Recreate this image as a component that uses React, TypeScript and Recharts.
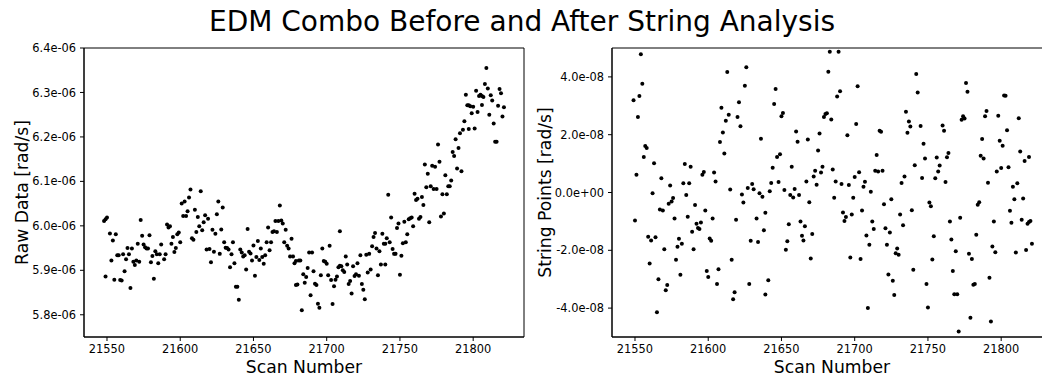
import React from 'react';
import { ScatterChart, Scatter, XAxis, YAxis, ReferenceArea } from 'recharts';

const FONT = "'DejaVu Sans', 'Liberation Sans', sans-serif";

const titleText = 'EDM Combo Before and After String Analysis';
const xTitle = 'Scan Number';
const rawTitle = 'Raw Data [rad/s]';
const stringTitle = 'String Points [rad/s]';

const scanTicks = [21550, 21600, 21650, 21700, 21750, 21800];
const scanDomain = [21534.3, 21834.7];

// raw EDM values, in units of 1e-06 rad/s
const rawTicks = [5.8, 5.9, 6.0, 6.1, 6.2, 6.3, 6.4];
const rawDomain = [5.75, 6.4];

// string residuals, in units of 1e-08 rad/s
const stringTicks = [-4, -2, 0, 2, 4];
const stringDomain = [-5, 5];

const rawScans = [
  21548, 21549, 21550, 21549, 21552, 21556, 21554, 21553, 21555, 21557, 21558, 21559, 21560, 21561, 21562, 21563,
  21564, 21567, 21565, 21566, 21568, 21569, 21570, 21572, 21571, 21573, 21574, 21575, 21576, 21577, 21578, 21579,
  21580, 21581, 21583, 21582, 21584, 21585, 21586, 21587, 21589, 21590, 21591, 21592, 21593, 21594, 21595, 21596,
  21597, 21598, 21599, 21600, 21601, 21603, 21604, 21602, 21606, 21607, 21605, 21608, 21609, 21610, 21611, 21612,
  21613, 21614, 21615, 21616, 21617, 21619, 21618, 21620, 21621, 21622, 21623, 21624, 21625, 21626, 21629, 21628,
  21627, 21630, 21631, 21632, 21633, 21635, 21636, 21634, 21637, 21638, 21639, 21640, 21641, 21642, 21643, 21644,
  21645, 21646, 21647, 21648, 21649, 21650, 21651, 21652, 21653, 21654, 21655, 21656, 21657, 21658, 21659, 21660,
  21661, 21662, 21663, 21664, 21665, 21666, 21667, 21668, 21669, 21670, 21671, 21672, 21673, 21674, 21675, 21676,
  21677, 21678, 21679, 21679, 21680, 21681, 21682, 21683, 21684, 21685, 21686, 21687, 21688, 21689, 21690, 21691,
  21692, 21693, 21694, 21695, 21696, 21697, 21698, 21699, 21700, 21701, 21702, 21703, 21704, 21705, 21706, 21707,
  21708, 21709, 21709, 21710, 21711, 21712, 21713, 21714, 21715, 21716, 21717, 21718, 21719, 21720, 21721, 21722,
  21723, 21724, 21725, 21726, 21727, 21728, 21729, 21730, 21731, 21732, 21733, 21734, 21735, 21736, 21737, 21738,
  21739, 21740, 21740, 21741, 21742, 21743, 21744, 21745, 21746, 21747, 21748, 21749, 21750, 21751, 21752, 21753,
  21754, 21755, 21756, 21757, 21758, 21759, 21760, 21761, 21762, 21763, 21764, 21765, 21766, 21767, 21768, 21769,
  21770, 21771, 21772, 21773, 21774, 21775, 21776, 21777, 21778, 21779, 21780, 21781, 21782, 21783, 21784, 21785,
  21786, 21787, 21788, 21789, 21790, 21791, 21792, 21793, 21794, 21795, 21796, 21797, 21797, 21798, 21799, 21800,
  21801, 21802, 21803, 21804, 21805, 21806, 21806, 21807, 21808, 21809, 21810, 21811, 21812, 21813, 21814, 21815,
  21816, 21817, 21818, 21819, 21820, 21821,
];

const rawValues = [
  6.011, 6.015, 6.019, 5.886, 5.983, 5.981, 5.967, 5.922, 5.879, 5.934, 5.934, 5.878, 5.877, 5.936, 5.898, 5.925,
  5.950, 5.949, 5.936, 5.860, 5.919, 5.912, 5.922, 5.919, 5.960, 6.013, 5.978, 5.958, 5.952, 5.949, 5.949, 5.979,
  5.918, 5.932, 5.943, 5.881, 5.936, 5.916, 5.936, 5.958, 5.925, 5.936, 6.003, 5.996, 5.999, 5.960, 5.975, 5.941,
  5.950, 5.981, 5.985, 5.963, 6.050, 6.055, 6.022, 6.022, 6.064, 6.082, 6.033, 5.972, 5.969, 6.036, 5.986, 6.020,
  5.999, 6.078, 5.990, 6.008, 6.024, 6.016, 5.947, 5.948, 5.918, 5.991, 5.942, 5.982, 6.026, 6.055, 6.041, 5.992,
  5.937, 5.963, 5.951, 5.950, 5.947, 5.936, 5.963, 5.907, 5.916, 5.863, 5.863, 5.834, 5.947, 5.940, 5.931, 5.934,
  5.902, 5.993, 5.942, 5.938, 5.922, 5.956, 5.888, 5.930, 5.966, 5.923, 5.949, 5.930, 5.915, 5.934, 5.963, 5.996,
  5.945, 5.963, 5.986, 5.988, 6.011, 5.986, 6.011, 6.046, 6.012, 6.005, 5.963, 5.991, 5.955, 5.949, 5.931, 5.971,
  5.931, 5.916, 5.867, 5.921, 5.868, 5.922, 5.922, 5.810, 5.891, 5.872, 5.885, 5.905, 5.940, 5.844, 5.940, 5.898,
  5.870, 5.867, 5.825, 5.816, 5.889, 5.949, 5.921, 5.919, 5.915, 5.889, 5.955, 5.878, 5.824, 5.864, 5.879, 5.886,
  5.907, 5.988, 5.910, 5.909, 5.900, 5.896, 5.931, 5.913, 5.869, 5.876, 5.848, 5.909, 5.887, 5.891, 5.916, 5.888,
  5.934, 5.869, 5.856, 5.835, 5.935, 5.895, 5.937, 5.902, 5.954, 5.975, 5.984, 5.949, 5.889, 5.943, 5.913, 5.982,
  5.960, 5.960, 5.913, 5.972, 6.070, 5.963, 6.019, 5.948, 5.937, 5.937, 5.995, 6.005, 5.890, 5.933, 5.961, 6.009,
  5.963, 5.981, 6.015, 6.017, 6.019, 5.999, 6.072, 6.058, 6.061, 6.016, 6.020, 6.065, 6.047, 6.138, 6.087, 6.117,
  6.008, 6.089, 6.135, 6.083, 6.133, 6.083, 6.183, 6.144, 6.021, 6.071, 6.028, 6.114, 6.071, 6.089, 6.089, 6.102,
  6.166, 6.157, 6.195, 6.129, 6.175, 6.208, 6.123, 6.216, 6.235, 6.295, 6.271, 6.271, 6.218, 6.269, 6.253, 6.268,
  6.219, 6.304, 6.256, 6.292, 6.295, 6.272, 6.292, 6.290, 6.319, 6.355, 6.309, 6.250, 6.294, 6.282, 6.230, 6.189,
  6.189, 6.270, 6.308, 6.298, 6.246, 6.267,
];

const stringScans = [
  21554, 21555, 21553, 21549, 21552, 21557, 21558, 21556, 21563, 21551, 21568, 21562, 21567, 21569, 21550, 21559,
  21561, 21564, 21570, 21560, 21566, 21572, 21571, 21565, 21574, 21573, 21575, 21576, 21577, 21578, 21580, 21579,
  21582, 21581, 21584, 21588, 21583, 21587, 21585, 21586, 21589, 21591, 21590, 21592, 21593, 21594, 21595, 21596,
  21597, 21598, 21601, 21602, 21599, 21600, 21603, 21604, 21605, 21606, 21607, 21608, 21609, 21610, 21611, 21612,
  21613, 21614, 21615, 21616, 21617, 21618, 21619, 21620, 21621, 21622, 21623, 21624, 21625, 21626, 21627, 21628,
  21629, 21630, 21631, 21633, 21634, 21635, 21636, 21637, 21638, 21639, 21639, 21641, 21642, 21643, 21644, 21645,
  21646, 21647, 21648, 21649, 21650, 21651, 21652, 21653, 21654, 21655, 21656, 21657, 21658, 21659, 21660, 21661,
  21662, 21663, 21664, 21665, 21666, 21667, 21668, 21669, 21670, 21671, 21672, 21673, 21674, 21675, 21676, 21677,
  21678, 21679, 21680, 21681, 21682, 21683, 21689, 21684, 21685, 21686, 21687, 21688, 21690, 21691, 21692, 21693,
  21694, 21695, 21696, 21697, 21698, 21699, 21700, 21701, 21702, 21703, 21704, 21705, 21706, 21707, 21708, 21709,
  21710, 21711, 21712, 21713, 21714, 21715, 21716, 21717, 21718, 21719, 21720, 21721, 21722, 21723, 21724, 21725,
  21726, 21727, 21728, 21729, 21730, 21731, 21732, 21733, 21734, 21735, 21736, 21737, 21738, 21739, 21740, 21741,
  21742, 21743, 21745, 21746, 21747, 21748, 21749, 21750, 21751, 21752, 21753, 21754, 21755, 21756, 21757, 21758,
  21760, 21761, 21762, 21763, 21764, 21765, 21766, 21767, 21768, 21769, 21770, 21771, 21772, 21773, 21774, 21775,
  21776, 21777, 21778, 21779, 21780, 21781, 21782, 21783, 21784, 21785, 21786, 21787, 21788, 21789, 21790, 21791,
  21792, 21793, 21794, 21795, 21796, 21797, 21798, 21799, 21800, 21801, 21802, 21803, 21804, 21805, 21806, 21807,
  21808, 21809, 21810, 21811, 21812, 21813, 21814, 21815, 21816, 21817, 21818, 21819, 21819, 21820, 21821,
];

const stringValues = [
  4.78, 3.76, 3.34, 3.19, 2.61, 1.61, 1.54, 1.23, 1.01, 0.61, 0.49, -0.03, -0.59, -0.62, -0.97, -1.53,
  -1.66, -1.55, -1.96, -2.46, -3.0, -3.2, -3.38, -4.14, 0.24, -0.39, -0.31, -0.19, -0.9, -2.33, -1.6, -1.88,
  -1.77, -2.85, 0.99, 0.89, 0.32, 0.32, -0.09, -0.84, -1.36, -0.43, -1.96, -1.08, -1.23, -1.26, -1.04, 0.61,
  0.71, -0.62, -1.59, -1.67, -2.72, -2.92, -0.9, 0.69, 0.38, -3.17, -2.66, 1.75, 2.93, 2.08, 1.35, 2.48,
  4.17, 2.69, 0.1, -2.33, -3.69, -3.45, -0.94, 2.61, 3.12, 2.29, -0.07, -0.35, 3.69, 4.33, 0.16, -3.17,
  -1.67, 0.29, 0.11, -0.9, -1.71, -0.03, 1.86, -0.15, -1.31, -0.7, -3.53, -3.04, 0.04, 0.33, 0.86, 3.06,
  3.58, 1.23, 0.36, 1.32, 2.64, 2.75, 0.09, -1.98, -1.69, -1.1, -0.09, 0.89, -0.17, 0.12, 2.11, 1.76,
  -0.09, -1.0, -1.5, -1.66, -1.17, 0.38, 1.83, -0.34, -2.28, -1.44, 0.55, 0.75, 0.27, 1.45, 2.04, 0.69,
  0.89, 2.61, 2.72, 2.74, 4.18, 4.87, 4.87, 2.53, 0.8, -0.18, 0.38, 3.32, 3.5, 0.29, -0.69, -0.99,
  -0.85, 1.98, 0.26, -2.25, -0.76, -0.18, 0.54, 2.37, 3.68, 0.7, -2.3, -0.62, 0.2, 0.37, -1.49, -4.0,
  -1.81, 0.03, -1.0, -1.26, 0.75, 1.3, 0.73, 2.14, 2.1, 0.75, -0.41, -1.24, -1.81, -2.84, -1.38, -0.23,
  -3.05, -3.55, -2.1, -1.94, -2.15, -0.76, 0.33, -1.13, 0.55, 2.79, 2.07, 2.46, 2.28, -0.61, -2.67, 0.94,
  4.1, 3.46, 2.3, 0.5, 1.69, 1.18, -3.17, -3.98, -0.35, -0.48, -2.32, -1.51, 0.49, 1.21, 0.73, 0.93,
  2.32, 2.14, 0.36, 1.22, 1.37, -1.0, -1.63, -2.72, -3.52, -2.03, -3.52, -4.81, -0.87, 2.52, 2.64, 2.56,
  3.79, 3.49, -2.12, -4.33, -2.3, -3.19, -3.17, -1.46, -0.42, -0.34, 1.27, 1.85, 1.18, 2.64, 2.82, 0.34,
  -2.95, -4.46, -1.87, -1.0, -2.07, 0.73, 2.66, 1.79, 0.85, 1.62, 3.36, 3.35, 2.15, 0.87, -0.63, -1.05,
  0.2, -0.23, -2.08, 0.32, 2.57, 1.42, -0.94, -0.21, 1.09, -1.99, -1.08, 1.23, -1.02, -0.99, -1.77,
];

const rawData = rawScans.map((x, i) => ({ x, y: rawValues[i] }));
const stringData = stringScans.map((x, i) => ({ x, y: stringValues[i] }));

const fmtRaw = (v: number) => `${v.toFixed(1)}e-06`;
const fmtString = (v: number) => (v === 0 ? '0.0e+00' : `${v.toFixed(1)}e-08`);

const TICK_FONT = 11.4;
const LABEL_FONT = 17.2;

const Dot = (props: any) => {
  if (props.cx == null || props.cy == null) return null;
  return <circle cx={props.cx} cy={props.cy} r={2} fill="#000" />;
};

const YTitle = (props: any) => {
  const vb = props.viewBox || { x: 0, y: 48, width: 84, height: 289 };
  const cx = vb.x + props.offsetX;
  const cy = vb.y + vb.height / 2;
  return (
    <text
      x={cx}
      y={cy}
      transform={`rotate(-90, ${cx}, ${cy})`}
      textAnchor="middle"
      dominantBaseline="central"
      fill="#000"
      fontSize={LABEL_FONT}
      fontFamily={FONT}
    >
      {props.text}
    </text>
  );
};

type PanelProps = {
  data: { x: number; y: number }[];
  yDomain: number[];
  yTicks: number[];
  yFormat: (v: number) => string;
  yTitle: string;
  yTitleX: number;
};

function Panel({ data, yDomain, yTicks, yFormat, yTitle, yTitleX }: PanelProps) {
  const tickStyle = { fill: '#000', fontSize: TICK_FONT, fontFamily: FONT };
  return (
    <ScatterChart width={540} height={376} margin={{ top: 48, right: 16, bottom: 0, left: 0 }}>
      <XAxis
        type="number"
        dataKey="x"
        domain={scanDomain}
        ticks={scanTicks}
        interval={0}
        allowDataOverflow
        height={39}
        tickSize={4}
        tickMargin={4}
        tick={tickStyle}
        tickLine={{ stroke: '#000' }}
        axisLine={{ stroke: '#000' }}
        label={{ value: xTitle, position: 'insideBottom', offset: 3, fill: '#000', fontSize: LABEL_FONT, fontFamily: FONT }}
      />
      <YAxis
        type="number"
        dataKey="y"
        domain={yDomain}
        ticks={yTicks}
        interval={0}
        allowDataOverflow
        width={84}
        tickSize={4}
        tickMargin={4}
        tick={tickStyle}
        tickFormatter={yFormat}
        tickLine={{ stroke: '#000' }}
        axisLine={{ stroke: '#000' }}
        label={<YTitle text={yTitle} offsetX={yTitleX} />}
      />
      <ReferenceArea
        x1={scanDomain[0]}
        x2={scanDomain[1]}
        y1={yDomain[0]}
        y2={yDomain[1]}
        fill="none"
        fillOpacity={0}
        stroke="#000"
        strokeWidth={1}
        ifOverflow="visible"
      />
      <Scatter data={data} fill="#000" shape={Dot} isAnimationActive={false} />
    </ScatterChart>
  );
}

export default function App() {
  return (
    <div
      style={{
        position: 'absolute',
        left: 0,
        top: 0,
        width: 1042,
        height: 376,
        overflow: 'hidden',
        background: '#fff',
      }}
    >
      <div style={{ position: 'absolute', left: 0, top: 0 }}>
        <Panel data={rawData} yDomain={rawDomain} yTicks={rawTicks} yFormat={fmtRaw} yTitle={rawTitle} yTitleX={22} />
      </div>
      <div style={{ position: 'absolute', left: 528, top: 0 }}>
        <Panel
          data={stringData}
          yDomain={stringDomain}
          yTicks={stringTicks}
          yFormat={fmtString}
          yTitle={stringTitle}
          yTitleX={17}
        />
      </div>
      <svg width={1042} height={44} style={{ position: 'absolute', left: 0, top: 0 }}>
        <text x={522} y={31} textAnchor="middle" fill="#000" fontSize={28} fontFamily={FONT}>
          {titleText}
        </text>
      </svg>
    </div>
  );
}
